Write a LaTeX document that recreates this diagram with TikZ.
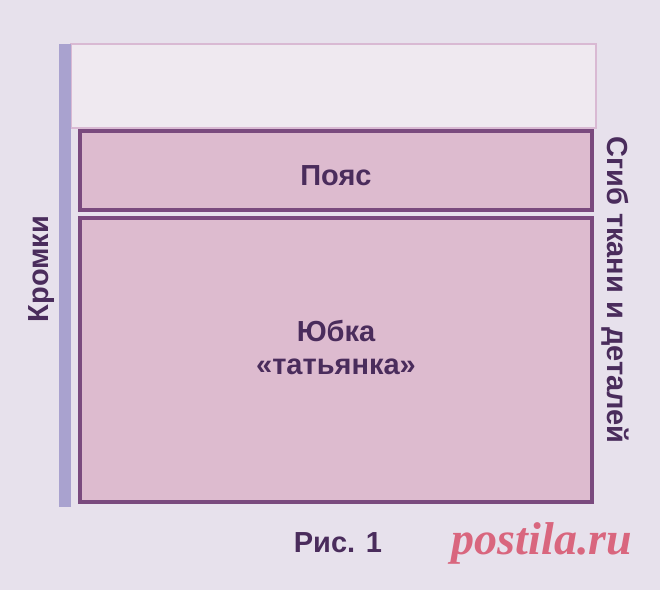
\documentclass[tikz,border=0pt]{standalone}
\usepackage{fontspec}
\setmainfont{Liberation Sans}
\newfontfamily\markfont{Liberation Serif}
\definecolor{bgcol}{HTML}{E7E1EC}
\definecolor{spare}{HTML}{EFE9F0}
\definecolor{sparerim}{HTML}{D9B9D3}
\definecolor{piecefill}{HTML}{DDBBCF}
\definecolor{piecerim}{HTML}{7A4A7E}
\definecolor{edgecol}{HTML}{A9A2CF}
\definecolor{ink}{HTML}{4A2C5C}
\definecolor{markcol}{HTML}{D9667E}
\begin{document}
\begin{tikzpicture}[x=1pt,y=-1pt,
    piece/.style={draw=piecerim,line width=4pt,fill=piecefill},
    caption/.style={font=\bfseries\fontsize{29}{33}\selectfont,text=ink,align=center}]
    \fill[bgcol] (0,0) rectangle (660,590);
    \useasboundingbox (0,0) rectangle (660,590);

    % fabric
    \draw[sparerim,line width=1.5pt,fill=spare] (71,44) rectangle (596,128);
    \fill[edgecol] (59,44) rectangle (71,507);

    % pieces
    \draw[piece] (80,131) rectangle (592,210);
    \draw[piece] (80,218) rectangle (592,502);

    \node[caption] (belt) at (336,176) {Пояс};
    \node[caption] (skirt) at (336,347) {Юбка\\«татьянка»};
    \node[caption,rotate=90] (edges) at (42,269) {Кромки};
    \node[caption,rotate=-90] (fold) at (615,290) {Сгиб ткани и деталей};
    \node[caption] (fig) at (338,543) {Рис. 1};

    \node[font=\markfont\bfseries\itshape\fontsize{46}{50}\selectfont,text=markcol] (mark) at (542,543) {postila.ru};
\end{tikzpicture}
\end{document}
